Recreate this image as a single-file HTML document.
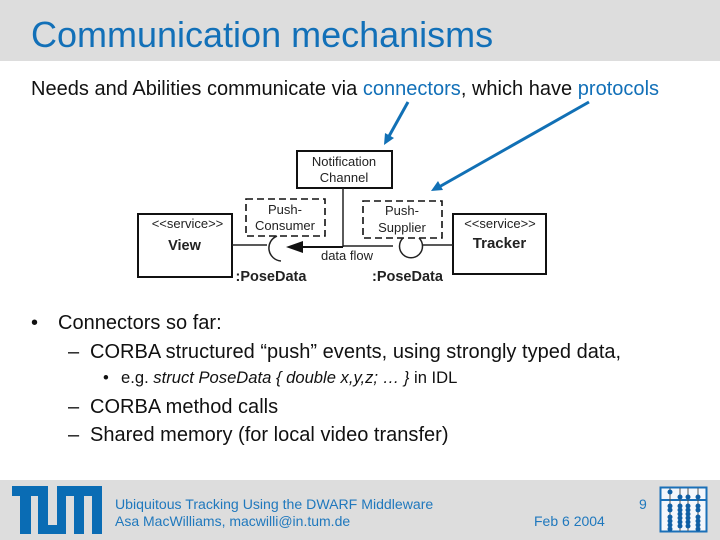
<!DOCTYPE html>
<html><head><meta charset="utf-8"><style>
html,body{margin:0;padding:0;background:#fff}
#s{position:relative;width:720px;height:540px;overflow:hidden;background:#fff;font-family:"Liberation Sans",sans-serif;color:#111}
.t{position:absolute;white-space:nowrap;line-height:1}
.b{font-size:20px;letter-spacing:.015px}
.f{font-size:14px;color:#1f78bd}
svg{position:absolute;left:0;top:0}
svg text{font-family:"Liberation Sans",sans-serif}
</style></head><body><div id="s">
<div style="position:absolute;left:0;top:0;width:720px;height:61px;background:#ddd"></div>
<div style="position:absolute;left:0;top:480px;width:720px;height:60px;background:#ddd"></div>
<div class="t" style="left:31px;top:17px;font-size:36px;color:#1270b8">Communication mechanisms</div>
<div class="t b" style="left:31px;top:79px">Needs and Abilities communicate via <span style="color:#1270b8">connectors</span>, which have <span style="color:#1270b8">protocols</span></div>
<div class="t b" style="left:31px;top:313px">•</div>
<div class="t b" style="left:58px;top:313px">Connectors so far:</div>
<div class="t b" style="left:68px;top:342px">–</div>
<div class="t b" style="left:90px;top:342px">CORBA structured “push” events, using strongly typed data,</div>
<div class="t" style="left:103px;top:370px;font-size:16.6px">•</div>
<div class="t" style="left:121px;top:370px;font-size:16.6px">e.g. <i>struct PoseData { double x,y,z; … }</i> in IDL</div>
<div class="t b" style="left:68px;top:397px">–</div>
<div class="t b" style="left:90px;top:397px">CORBA method calls</div>
<div class="t b" style="left:68px;top:425px">–</div>
<div class="t b" style="left:90px;top:425px">Shared memory (for local video transfer)</div>
<div class="t f" style="left:115px;top:497px;font-size:14.1px">Ubiquitous Tracking Using the DWARF Middleware</div>
<div class="t f" style="left:115px;top:514px">Asa MacWilliams, macwilli@in.tum.de</div>
<div class="t f" style="left:534px;top:514px">Feb 6 2004</div>
<div class="t f" style="left:639px;top:497px">9</div>
<svg width="720" height="540" viewBox="0 0 720 540">
<g fill="none" stroke="#111" stroke-width="2">
<rect x="297" y="151" width="95" height="37"/>
<rect x="138" y="214" width="94" height="63"/>
<rect x="453" y="214" width="93" height="60"/>
</g>
<g fill="none" stroke="#111" stroke-width="1.6" stroke-dasharray="7 4">
<rect x="246" y="199" width="79" height="37"/>
<rect x="363" y="201" width="79" height="37"/>
</g>
<g fill="none" stroke="#222" stroke-width="1.5">
<path d="M343 188V247"/>
<path d="M232 245H267"/>
<path d="M422 245H453"/>
<path d="M343 246H393"/>
<path d="M277 236A13 13 0 0 0 281 261"/>
<path d="M403 238A11.5 11.5 0 1 0 419 238"/>
</g>
<path d="M303 247H343" stroke="#111" stroke-width="2"/>
<path d="M286 247L303 241V253Z" fill="#111"/>
<g font-size="13" fill="#222" text-anchor="middle">
<text x="344" y="166">Notification</text>
<text x="344" y="182">Channel</text>
<text x="285" y="214">Push-</text>
<text x="285" y="230">Consumer</text>
<text x="402" y="215">Push-</text>
<text x="402" y="232">Supplier</text>
<text x="347" y="260">data flow</text>
<text x="187.5" y="228">&lt;&lt;service&gt;&gt;</text>
<text x="500" y="228">&lt;&lt;service&gt;&gt;</text>
</g>
<g font-weight="bold" fill="#222">
<text x="184.5" y="250" text-anchor="middle" font-size="14.5">View</text>
<text x="499.5" y="248" text-anchor="middle" font-size="15">Tracker</text>
<text x="235.5" y="281" font-size="14.5">:PoseData</text>
<text x="372" y="281" font-size="14.5">:PoseData</text>
</g>
<g stroke="#1170b5" stroke-width="3" fill="none">
<path d="M408 102L388 138"/>
<path d="M589 102L439 187"/>
</g>
<path d="M384 145L385 133L394 138Z" fill="#1170b5"/>
<path d="M431 191L438 181L443 190Z" fill="#1170b5"/>
<path d="M12 486H48V525H57V486H102V534H92V496H84V534H74V496H66V534H38V496H31V534H20V496H12Z" fill="#0a6cb4"/>
<g>
<rect x="660.5" y="487.5" width="46" height="44" fill="#f4f7fc" stroke="#1a70b8" stroke-width="2"/>
<path d="M660 500H707" stroke="#1a70b8" stroke-width="2"/>
<g stroke="#555" stroke-width="1"><path d="M670 488V531M680 488V531M688 488V531M698 488V531"/></g>
<g fill="#0f5fa5">
<circle cx="670" cy="492" r="2.5"/><circle cx="680" cy="497" r="2.5"/><circle cx="688" cy="497" r="2.5"/><circle cx="698" cy="497" r="2.5"/>
<circle cx="670" cy="506" r="2.5"/><circle cx="670" cy="510" r="2.5"/><circle cx="670" cy="517" r="2.5"/><circle cx="670" cy="521" r="2.5"/><circle cx="670" cy="525" r="2.5"/><circle cx="670" cy="529" r="2.5"/>
<circle cx="680" cy="506" r="2.5"/><circle cx="680" cy="510" r="2.5"/><circle cx="680" cy="514" r="2.5"/><circle cx="680" cy="518" r="2.5"/><circle cx="680" cy="522" r="2.5"/><circle cx="680" cy="526" r="2.5"/>
<circle cx="688" cy="506" r="2.5"/><circle cx="688" cy="510" r="2.5"/><circle cx="688" cy="514" r="2.5"/><circle cx="688" cy="518" r="2.5"/><circle cx="688" cy="522" r="2.5"/><circle cx="688" cy="526" r="2.5"/>
<circle cx="698" cy="506" r="2.5"/><circle cx="698" cy="510" r="2.5"/><circle cx="698" cy="517" r="2.5"/><circle cx="698" cy="521" r="2.5"/><circle cx="698" cy="525" r="2.5"/><circle cx="698" cy="529" r="2.5"/>
</g>
</g>
</svg>
</div></body></html>
